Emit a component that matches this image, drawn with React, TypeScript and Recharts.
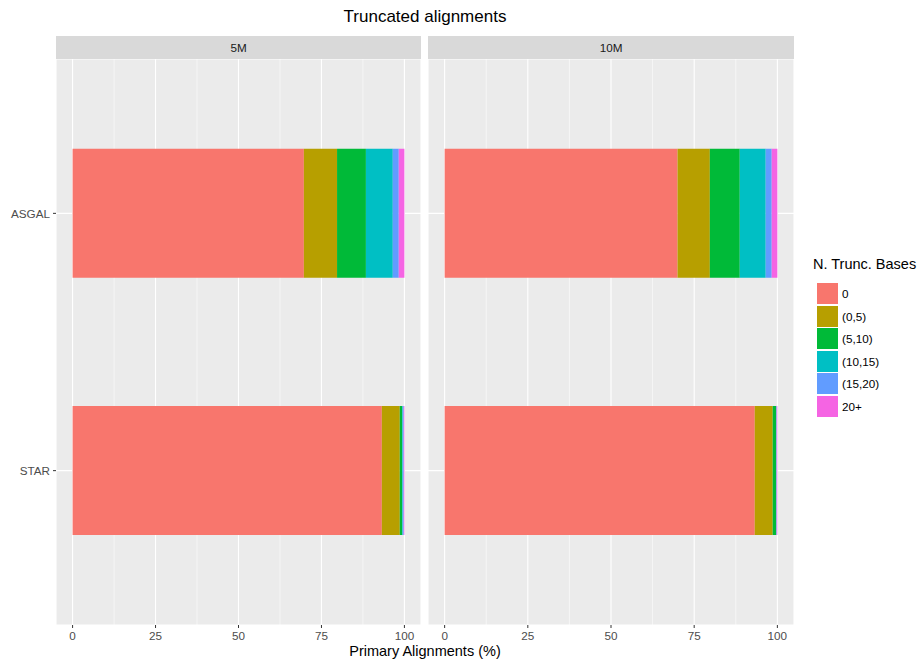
import { Bar, BarChart, CartesianGrid, XAxis, YAxis } from "recharts";

const categories = ["ASGAL", "STAR"];
const buckets = ["0", "(0,5)", "(5,10)", "(10,15)", "(15,20)", "20+"];
const bucketColors = ["#F8766D", "#B79F00", "#00BA38", "#00BFC4", "#619CFF", "#F564E3"];

// share of primary alignments (%) per bucket, one array per tool and sample size
const asgal5M = [69.7, 10.0, 8.7, 8.1, 1.8, 1.7];
const star5M = [93.2, 5.4, 0.7, 0.2, 0.3, 0.2];
const asgal10M = [70.0, 9.7, 9.0, 7.8, 1.8, 1.7];
const star10M = [93.2, 5.4, 1.0, 0.1, 0.1, 0.2];

const panels = ["5M", "10M"];
const xTicks = [0, 25, 50, 75, 100];
const minorTicks = [12.5, 37.5, 62.5, 87.5];

const font = '"Liberation Sans", Arial, Helvetica, sans-serif';

const toRows = (series: number[][]) =>
    categories.map((name, i) => {
        const row: any = { name };
        buckets.forEach((b, j) => (row[b] = series[i][j]));
        return row;
    });

const panelData = [toRows([asgal5M, star5M]), toRows([asgal10M, star10M])];

const PLOT_H = 566;
const AXIS_H = 30;

const Panel = ({ data, width, showY }: { data: any[]; width: number; showY: boolean }) => (
    <BarChart
        width={width}
        height={PLOT_H + AXIS_H}
        data={data}
        layout="vertical"
        margin={{ top: 0, right: 0, bottom: 0, left: 0 }}
    >
        <CartesianGrid
            fill="#EBEBEB"
            fillOpacity={1}
            stroke="#FFFFFF"
            strokeWidth={0.55}
            horizontal={false}
            verticalValues={minorTicks}
        />
        <CartesianGrid stroke="#FFFFFF" strokeWidth={1.1} />
        <XAxis
            type="number"
            domain={[-5, 105]}
            ticks={xTicks}
            allowDataOverflow
            height={AXIS_H}
            axisLine={false}
            tickSize={3}
            tickMargin={4}
            tickLine={{ stroke: "#333333" }}
            tick={{ fill: "#4D4D4D", fontSize: 11.7, fontFamily: font }}
        />
        <YAxis
            type="category"
            dataKey="name"
            hide={!showY}
            width={56}
            padding={{ top: 25.7, bottom: 25.7 }}
            axisLine={false}
            tickSize={3}
            tickMargin={3}
            tickLine={{ stroke: "#333333" }}
            tick={{ fill: "#4D4D4D", fontSize: 11.7, fontFamily: font }}
        />
        {buckets.map((b, i) => (
            <Bar key={b} dataKey={b} stackId="a" fill={bucketColors[i]} barSize={129} isAnimationActive={false} />
        ))}
    </BarChart>
);

export default function App() {
    const panelLeft = [56, 428];
    const panelWidth = [365, 366];
    return (
        <div style={{ position: "absolute", left: 0, top: 0, width: 921, height: 664, background: "#fff", fontFamily: font }}>
            <div style={{ position: "absolute", left: 56, width: 738, top: 7, textAlign: "center", fontSize: 17, color: "#000" }}>
                Truncated alignments
            </div>

            {panels.map((p, i) => (
                <div
                    key={p}
                    style={{
                        position: "absolute",
                        left: panelLeft[i],
                        top: 36,
                        width: panelWidth[i],
                        height: 23,
                        background: "#D9D9D9",
                        color: "#1A1A1A",
                        fontSize: 11.7,
                        lineHeight: "23px",
                        textAlign: "center",
                    }}
                >
                    {p}
                </div>
            ))}

            <div style={{ position: "absolute", left: 0, top: 59 }}>
                <Panel data={panelData[0]} width={421} showY={true} />
            </div>
            <div style={{ position: "absolute", left: 428, top: 59 }}>
                <Panel data={panelData[1]} width={366} showY={false} />
            </div>

            <div style={{ position: "absolute", left: 56, width: 738, top: 643, textAlign: "center", fontSize: 14.5, color: "#000" }}>
                Primary Alignments (%)
            </div>

            {/* legend */}
            <div style={{ position: "absolute", left: 813, top: 256, fontSize: 14.5, color: "#000", whiteSpace: "nowrap" }}>
                N. Trunc. Bases
            </div>
            {buckets.map((b, i) => (
                <div key={b} style={{ position: "absolute", left: 817, top: 283 + i * 22.6, display: "flex", alignItems: "center" }}>
                    <div style={{ width: 21, height: 21, background: bucketColors[i] }} />
                    <span style={{ marginLeft: 4, fontSize: 11.7, color: "#000" }}>{b}</span>
                </div>
            ))}
        </div>
    );
}
